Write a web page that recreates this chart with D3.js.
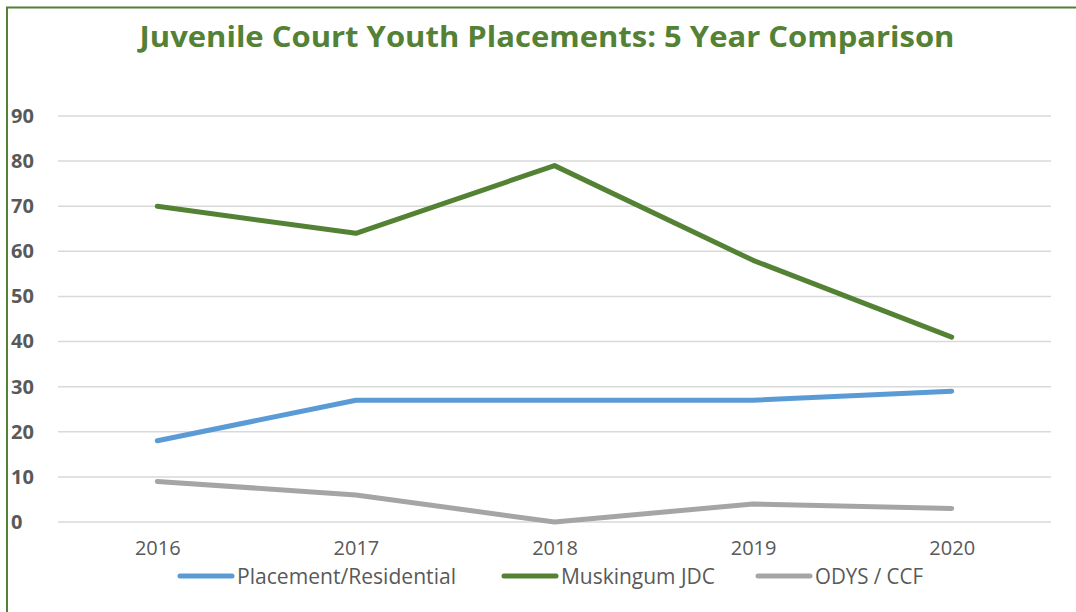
<!DOCTYPE html>
<html>
<head>
<meta charset="utf-8">
<script src="https://cdn.jsdelivr.net/npm/d3@7"></script>
<style>
  body { margin: 0; background: #fff; }
  svg text { font-family: "Open Sans", sans-serif; }
</style>
</head>
<body>
<div id="chart"></div>
<script>
// chart data
const years = ["2016", "2017", "2018", "2019", "2020"];
const placement = [18, 27, 27, 27, 29];
const muskingum = [70, 64, 79, 58, 41];
const odys = [9, 6, 0, 4, 3];
const yTicks = [0, 10, 20, 30, 40, 50, 60, 70, 80, 90];

const seriesNames = ["Placement/Residential", "Muskingum JDC", "ODYS / CCF"];
const seriesColors = ["#5b9bd5", "#548235", "#a5a5a5"];

let W = 1076, H = 612;
let margin = {top: 116, right: 25, bottom: 90, left: 58};
let width = W - margin.left - margin.right;
let height = H - margin.top - margin.bottom;

let svg = d3.select("#chart").append("svg")
    .attr("width", W)
    .attr("height", H);

// outer frame (top and left edges visible)
svg.append("path")
    .attr("d", "M7,612 L7,7.5 L1076,7.5")
    .attr("fill", "none")
    .attr("stroke", "#538135")
    .attr("stroke-width", 2);

// title
svg.append("text")
    .attr("x", 547)
    .attr("y", 47)
    .attr("text-anchor", "middle")
    .attr("font-size", 28)
    .attr("font-weight", "bold")
    .attr("fill", "#538135")
    .attr("textLength", 815)
    .attr("lengthAdjust", "spacingAndGlyphs")
    .text("Juvenile Court Youth Placements: 5 Year Comparison");

let g = svg.append("g")
    .attr("transform", "translate(" + margin.left + "," + margin.top + ")");

let x = d3.scalePoint()
    .domain(years)
    .range([0, width])
    .padding(0.5);

let y = d3.scaleLinear()
    .domain([0, 90])
    .range([height, 0]);

// gridlines
g.selectAll(".grid")
    .data(yTicks)
    .enter().append("line")
    .attr("class", "grid")
    .attr("x1", 0)
    .attr("x2", width)
    .attr("y1", d => y(d))
    .attr("y2", d => y(d))
    .attr("stroke", "#d9d9d9")
    .attr("stroke-width", 1.5);

// y axis labels
let yAxis = g.append("g")
    .call(d3.axisLeft(y).tickValues(yTicks).tickSize(0).tickPadding(0));
yAxis.select(".domain").remove();
yAxis.selectAll("text")
    .attr("x", -47)
    .attr("text-anchor", "start")
    .attr("font-size", 20)
    .attr("font-weight", "bold")
    .attr("fill", "#595959")
    .style("font-family", "'Open Sans', sans-serif");

// x axis labels
let xAxis = g.append("g")
    .attr("transform", "translate(0," + height + ")")
    .call(d3.axisBottom(x).tickSize(0).tickPadding(19));
xAxis.select(".domain").remove();
xAxis.selectAll("text")
    .attr("font-size", 20)
    .attr("fill", "#595959")
    .style("font-family", "'Open Sans', sans-serif");

// lines
let allSeries = [placement, muskingum, odys];
let line = d3.line()
    .x((d, i) => x(years[i]))
    .y(d => y(d));

g.selectAll(".line")
    .data(allSeries)
    .enter().append("path")
    .attr("class", "line")
    .attr("d", d => line(d))
    .attr("fill", "none")
    .attr("stroke", (d, i) => seriesColors[i])
    .attr("stroke-width", 5)
    .attr("stroke-linecap", "round")
    .attr("stroke-linejoin", "round");

// legend
let legendX = [180, 504, 758];
let legendLen = 52;
let legendTextLen = [219, 154, 108];
let legend = svg.selectAll(".legend")
    .data(seriesNames)
    .enter().append("g")
    .attr("class", "legend")
    .attr("transform", (d, i) => "translate(" + legendX[i] + ",576)");

legend.append("line")
    .attr("x1", 0)
    .attr("x2", legendLen)
    .attr("stroke", (d, i) => seriesColors[i])
    .attr("stroke-width", 5)
    .attr("stroke-linecap", "round");

legend.append("text")
    .attr("x", legendLen + 5)
    .attr("y", 8)
    .attr("font-size", 22)
    .attr("fill", "#595959")
    .attr("textLength", (d, i) => legendTextLen[i])
    .attr("lengthAdjust", "spacingAndGlyphs")
    .text(d => d);
</script>
</body>
</html>
